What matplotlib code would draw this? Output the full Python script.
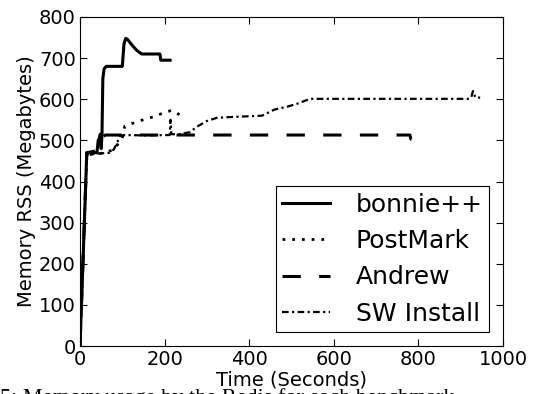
import matplotlib
matplotlib.use("Agg")
import matplotlib.pyplot as plt

# memory RSS (MB) over time (s) for each benchmark
bonnie_t = [0, 12, 16, 40, 43, 46, 48, 50, 52, 54, 57, 62, 100, 104, 108, 112, 118, 126, 135, 146, 189, 191, 213]
bonnie_v = [0, 350, 470, 470, 500, 505, 515, 480, 515, 650, 674, 680, 680, 735, 748, 746, 738, 728, 718, 710, 710, 695, 695]

postmark_t = [0, 12, 16, 45, 60, 80, 100, 106, 134, 158, 177, 197, 217, 236]
postmark_v = [0, 350, 465, 468, 470, 478, 505, 535, 545, 553, 558, 567, 573, 562]

andrew_t = [0, 12, 16, 40, 50, 60, 780, 782, 804]
andrew_v = [0, 350, 470, 475, 505, 513, 513, 503, 503]

sw_t = [0, 12, 16, 45, 70, 80, 88, 95, 110, 150, 212, 214, 216, 235, 260, 276, 300, 324, 362, 430, 460, 490, 513, 544, 920, 925, 929, 935, 946]
sw_v = [0, 350, 465, 468, 470, 478, 495, 512, 513, 512, 513, 550, 515, 515, 520, 533, 547, 555, 557, 560, 575, 582, 589, 601, 601, 605, 620, 604, 604]

xticks = [0, 200, 400, 600, 800, 1000]
yticks = [0, 100, 200, 300, 400, 500, 600, 700, 800]

fig = plt.figure(figsize=(5.41, 3.94), dpi=100)
ax = fig.add_axes([80 / 541, 1 - 346 / 394, 423 / 541, 329 / 394])

ax.plot(bonnie_t, bonnie_v, color="black", lw=2.2, ls="-", label="bonnie++")
ax.plot(postmark_t, postmark_v, color="black", lw=2, ls=(0, (1, 2.5)), label="PostMark")
ax.plot(andrew_t, andrew_v, color="black", lw=2.2, ls=(0, (6, 6)), label="Andrew")
ax.plot(sw_t, sw_v, color="black", lw=1.6, ls=(0, (3, 1.5, 1, 1.5)), label="SW Install")

ax.set_xlim(0, 1000)
ax.set_ylim(0, 800)
ax.set_xticks(xticks)
ax.set_yticks(yticks)
ax.tick_params(direction="in", length=5, width=0.8, labelsize=14, pad=3,
               top=True, right=True)
ax.set_xlabel("Time (Seconds)", fontsize=14, labelpad=1)
ax.set_ylabel("Memory RSS (Megabytes)", fontsize=14, labelpad=2)

leg = ax.legend(loc="lower right", fontsize=18, fancybox=False, framealpha=1,
                edgecolor="black", handlelength=1.9, labelspacing=0.5,
                borderpad=0.25, handletextpad=1.05, borderaxespad=0.55)
leg.get_frame().set_linewidth(0.8)

# cut-off caption at the bottom of the crop
fig.text(0.0, 1 - 388 / 394, "5: Memory usage by the Redis for each benchmark.",
         family="Liberation Serif", fontsize=16, va="top", ha="left")

fig.savefig("out.png", dpi=100)
